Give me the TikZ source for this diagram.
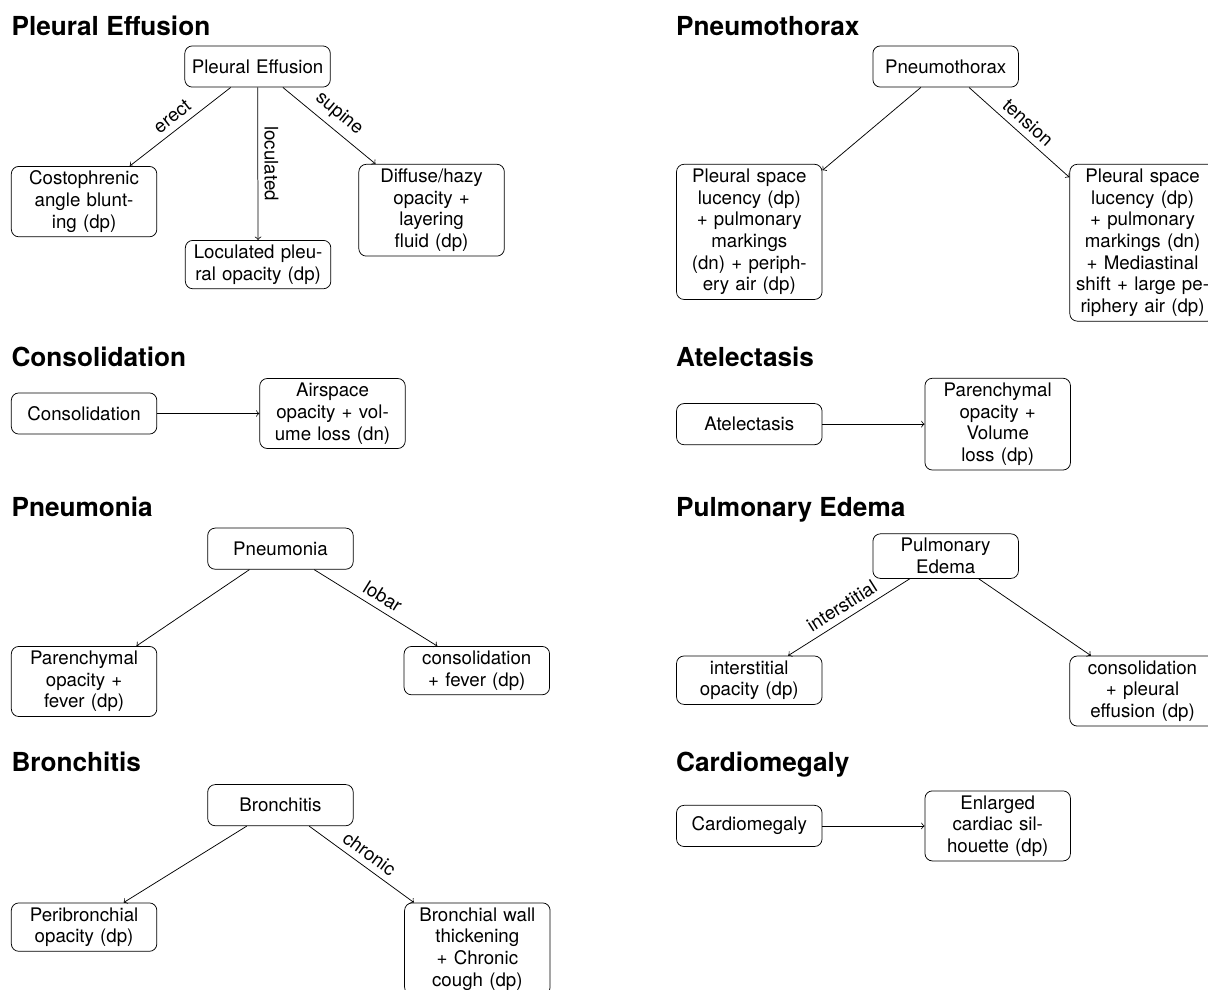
\documentclass[tikz,border=0pt]{standalone}
\usepackage{fontspec}
\setmainfont{TeX Gyre Heros}
\usetikzlibrary{positioning}

\begin{document}
\begin{tikzpicture}[node distance={1.92cm}, box/.style = {draw, rounded corners=4pt, text width=2.5cm, align=center, inner xsep=3.33pt, inner ysep=2.4pt, minimum height=22pt, font=\fontsize{10}{11.6}\selectfont}, leaf/.style = {box, anchor=north}, head/.style = {anchor=base west, inner sep=0pt, font=\fontsize{14}{16}\selectfont\bfseries}, lbl/.style = {midway, above, sloped, font=\fontsize{10}{12}\selectfont}]
\useasboundingbox (0,0) rectangle (22.70,-18.59);

% Pleural Effusion
\node[head] (pehead) at (0.21,-0.66) {Pleural Effusion};
\node[box] (pe) at (4.84,-1.25) {Pleural Effusion};
\node[leaf] (pe1) at (1.58,-3.12) {Costophrenic\\angle blunt-\\ing (dp)};
\node[leaf] (pe2) at (4.85,-4.51) {Loculated pleu-\\ral opacity (dp)};
\node[leaf] (pe3) at (8.11,-3.08) {Diffuse/hazy\\opacity +\\layering\\fluid (dp)};
\draw[->] (pe) -- node[lbl] {erect} (pe1);
\draw[->] (pe) -- node[lbl] {loculated} (pe2);
\draw[->] (pe) -- node[lbl] {supine} (pe3);

% Pneumothorax
\node[head] (pnhead) at (12.70,-0.66) {Pneumothorax};
\node[box] (pn) at (17.77,-1.25) {Pneumothorax};
\node[leaf] (pn1) at (14.08,-3.08) {Pleural space\\lucency (dp)\\+ pulmonary\\markings\\(dn) + periph-\\ery air (dp)};
\node[leaf] (pn2) at (21.47,-3.08) {Pleural space\\lucency (dp)\\+ pulmonary\\markings (dn)\\+ Mediastinal\\shift + large pe-\\riphery air (dp)};
\draw[->] (pn) -- (pn1);
\draw[->] (pn) -- node[lbl] {tension} (pn2);

% Consolidation
\node[head] (cohead) at (0.21,-6.89) {Consolidation};
\node[box] (co) at (1.58,-7.77) {Consolidation};
\node[box] (co1) [right=of co] {Airspace\\opacity + vol-\\ume loss (dn)};
\draw[->] (co) -- (co1);

% Atelectasis
\node[head] (athead) at (12.70,-6.88) {Atelectasis};
\node[box] (at) at (14.08,-7.97) {Atelectasis};
\node[box] (at1) [right=of at] {Parenchymal\\opacity +\\Volume\\loss (dp)};
\draw[->] (at) -- (at1);

% Pneumonia
\node[head] (pmhead) at (0.21,-9.71) {Pneumonia};
\node[box] (pm) at (5.27,-10.31) {Pneumonia};
\node[leaf] (pm1) at (1.58,-12.14) {Parenchymal\\opacity +\\fever (dp)};
\node[leaf] (pm2) at (8.96,-12.14) {consolidation\\+ fever (dp)};
\draw[->] (pm) -- (pm1);
\draw[->] (pm) -- node[lbl] {lobar} (pm2);

% Pulmonary Edema
\node[head] (edhead) at (12.70,-9.71) {Pulmonary Edema};
\node[box] (ed) at (17.77,-10.45) {Pulmonary\\Edema};
\node[leaf] (ed1) at (14.08,-12.32) {interstitial\\opacity (dp)};
\node[leaf] (ed2) at (21.47,-12.32) {consolidation\\+ pleural\\effusion (dp)};
\draw[->] (ed) -- node[lbl] {interstitial} (ed1);
\draw[->] (ed) -- (ed2);

% Bronchitis
\node[head] (brhead) at (0.21,-14.50) {Bronchitis};
\node[box] (br) at (5.27,-15.13) {Bronchitis};
\node[leaf] (br1) at (1.58,-16.96) {Peribronchial\\opacity (dp)};
\node[leaf] (br2) at (8.97,-16.96) {Bronchial wall\\thickening\\+ Chronic\\cough (dp)};
\draw[->] (br) -- (br1);
\draw[->] (br) -- node[lbl] {chronic} (br2);

% Cardiomegaly
\node[head] (cahead) at (12.70,-14.50) {Cardiomegaly};
\node[box] (ca) at (14.08,-15.52) {Cardiomegaly};
\node[box] (ca1) [right=of ca] {Enlarged\\cardiac sil-\\houette (dp)};
\draw[->] (ca) -- (ca1);
\end{tikzpicture}
\end{document}
